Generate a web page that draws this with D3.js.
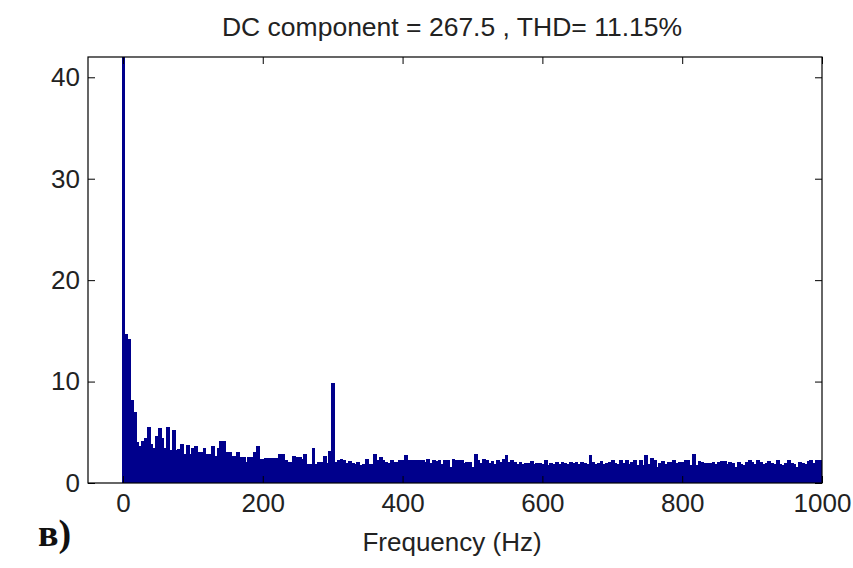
<!DOCTYPE html>
<html>
<head>
<meta charset="utf-8">
<script src="https://cdn.jsdelivr.net/npm/d3@7"></script>
<style>
  body { margin: 0; background: #fff; }
</style>
</head>
<body>
<div id="chart"></div>
<script>
// spectrum bins, 4 Hz apart starting at 0 Hz (first bin clipped by the axes)
const binHz = 4;
const magnitude = [
  60, 14.7, 14.2, 8.2, 7.0, 4.0, 3.6, 4.1, 4.4, 5.5,
  3.8, 3.5, 4.6, 5.4, 4.4, 3.5, 5.5, 3.3, 5.2, 3.3,
  3.4, 3.8, 2.9, 3.7, 2.9, 3.5, 3.6, 3.1, 3.1, 3.5,
  2.9, 2.9, 3.6, 2.7, 3.5, 4.1, 4.1, 3.1, 3.1, 2.7,
  2.7, 3.1, 2.6, 2.6, 2.1, 2.6, 2.6, 3.1, 3.6, 2.4,
  2.4, 2.5, 2.5, 2.5, 2.5, 2.5, 2.9, 2.9, 2.3, 2.1,
  2.1, 2.7, 2.6, 2.6, 2.4, 2.9, 1.9, 1.9, 3.5, 1.9,
  2.1, 2.1, 2.7, 2.0, 3.2, 9.9, 2.1, 2.3, 2.4, 2.3,
  2.0, 2.2, 2.0, 1.9, 2.1, 1.8, 1.9, 2.4, 1.9, 1.9,
  2.9, 2.3, 2.6, 2.3, 2.1, 2.0, 2.3, 2.1, 2.1, 2.3,
  2.3, 2.8, 2.3, 2.3, 2.3, 2.3, 2.3, 2.3, 2.1, 2.4,
  2.0, 2.3, 2.2, 2.3, 1.9, 2.3, 2.3, 1.6, 2.4, 2.3,
  2.3, 2.3, 2.0, 2.1, 2.1, 1.6, 2.9, 2.3, 2.0, 2.4,
  2.3, 2.0, 2.2, 1.9, 2.3, 2.1, 2.4, 2.8, 2.1, 2.3,
  2.1, 1.9, 2.1, 1.9, 2.0, 2.0, 2.2, 1.9, 2.0, 2.0,
  1.9, 2.3, 1.8, 2.0, 1.9, 2.1, 1.9, 2.1, 2.0, 1.9,
  2.1, 2.0, 2.1, 1.9, 2.1, 2.0, 1.9, 2.8, 2.1, 1.9,
  2.0, 2.2, 1.9, 2.0, 2.1, 2.3, 2.0, 1.9, 2.3, 2.0,
  2.3, 1.9, 2.1, 2.3, 1.8, 2.3, 1.8, 2.8, 1.9, 2.5,
  2.3, 1.6, 2.0, 2.2, 1.9, 2.1, 2.1, 2.3, 2.0, 2.1,
  2.1, 2.3, 2.3, 1.8, 2.9, 1.8, 2.2, 2.1, 2.0, 2.0,
  2.0, 2.1, 1.9, 2.1, 2.2, 2.2, 1.9, 2.1, 2.0, 1.6,
  2.1, 1.9, 1.8, 2.1, 2.3, 2.1, 1.9, 2.3, 2.1, 1.9,
  2.0, 2.2, 2.0, 1.9, 2.3, 1.9, 1.8, 2.0, 2.3, 2.0,
  1.9, 1.6, 2.1, 2.0, 1.9, 2.2, 2.3, 2.0, 2.3, 2.3,
  2.1
];
const xTicks = [0, 200, 400, 600, 800, 1000];
const yTicks = [0, 10, 20, 30, 40];
const title = 'DC component = 267.5 , THD= 11.15%';
const xLabel = 'Frequency (Hz)';
const panelLabel = 'в)';

const data = magnitude.map((v, i) => ({ f: i * binHz, v }));

const width = 853, height = 568;
const plotL = 88, plotR = 822, plotT = 57, plotB = 483;
const sans = '"Liberation Sans", Arial, sans-serif';
const fontSize = 26;

const svg = d3.select('#chart')
  .append('svg')
  .attr('width', width)
  .attr('height', height);

const x = d3.scaleLinear().domain([-50, 1000]).range([plotL, plotR]);
const y = d3.scaleLinear().domain([0, 42]).range([plotB, plotT]);

svg.append('clipPath')
  .attr('id', 'plot-clip')
  .append('rect')
  .attr('x', plotL).attr('y', plotT)
  .attr('width', plotR - plotL).attr('height', plotB - plotT);

// bars overlap by one pixel so no seams show between neighbours
svg.append('g')
  .attr('clip-path', 'url(#plot-clip)')
  .attr('shape-rendering', 'crispEdges')
  .selectAll('rect')
  .data(data)
  .join('rect')
    .attr('x', d => x(d.f - binHz / 2))
    .attr('y', d => y(d.v))
    .attr('width', x(binHz) - x(0) + 1)
    .attr('height', d => y(0) - y(d.v))
    .attr('fill', '#00008c');

// ticks on all four sides, pointing inwards
const xb = svg.append('g')
  .attr('transform', `translate(0,${plotB})`)
  .call(d3.axisBottom(x).tickValues(xTicks).tickSize(-7).tickPadding(11).tickFormat(d3.format('d')));
const xt = svg.append('g')
  .attr('transform', `translate(0,${plotT})`)
  .call(d3.axisTop(x).tickValues(xTicks).tickSize(-7).tickFormat(''));
const yl = svg.append('g')
  .attr('transform', `translate(${plotL},0)`)
  .call(d3.axisLeft(y).tickValues(yTicks).tickSize(-7).tickPadding(8));
const yr = svg.append('g')
  .attr('transform', `translate(${plotR},0)`)
  .call(d3.axisRight(y).tickValues(yTicks).tickSize(-7).tickFormat(''));

[xb, xt, yl, yr].forEach(g => {
  g.select('.domain').remove();
  g.selectAll('.tick line').attr('stroke', '#000');
  g.selectAll('.tick text')
    .attr('font-family', sans)
    .attr('font-size', fontSize)
    .attr('fill', '#222');
});

svg.append('rect')
  .attr('x', plotL).attr('y', plotT)
  .attr('width', plotR - plotL).attr('height', plotB - plotT)
  .attr('fill', 'none')
  .attr('stroke', '#000')
  .attr('stroke-width', 1.2);

svg.append('text')
  .attr('x', (plotL + plotR) / 2 - 3)
  .attr('y', 36)
  .attr('text-anchor', 'middle')
  .attr('font-family', sans)
  .attr('font-size', 26.5)
  .attr('fill', '#222')
  .text(title);

svg.append('text')
  .attr('x', (plotL + plotR) / 2 - 3)
  .attr('y', 551)
  .attr('text-anchor', 'middle')
  .attr('font-family', sans)
  .attr('font-size', fontSize)
  .attr('fill', '#222')
  .text(xLabel);

svg.append('text')
  .attr('x', 38)
  .attr('y', 546)
  .attr('font-family', '"Liberation Serif", "DejaVu Serif", serif')
  .attr('font-weight', 'bold')
  .attr('font-size', 38)
  .attr('fill', '#111')
  .text(panelLabel);
</script>
</body>
</html>
